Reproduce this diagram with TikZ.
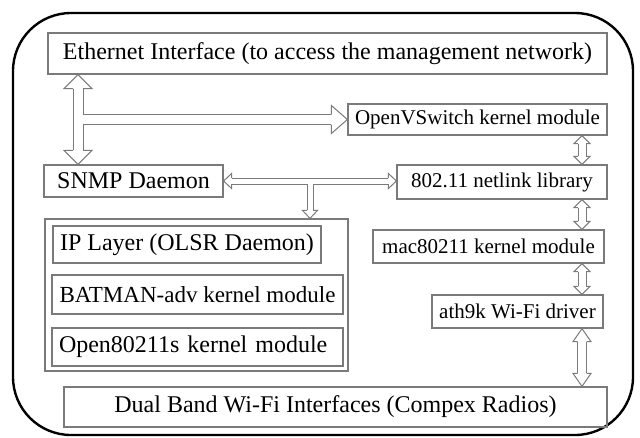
\documentclass[tikz,border=0pt]{standalone}
\usepackage{fontspec}
\setmainfont{Liberation Serif}
\usepackage{tikz}
\usetikzlibrary{calc}

\definecolor{linegray}{HTML}{7A7A7A}

\begin{document}
\begin{tikzpicture}[
			x=1pt, y=-1pt,
			every node/.style={font=\fontsize{24}{28}\selectfont},
			box/.style={
				rectangle, draw=linegray, line width=1.2pt,
				inner sep=0pt, align=center
			},
			small/.style={font=\fontsize{21}{25}\selectfont},
			pipe/.style={
				draw=linegray, line width=1pt, double=white
			},
			tiphead/.style={
				draw=linegray, fill=white, line width=1pt, line join=miter
			},
			pics/blocktip/.style n args={3}{code={
				\draw[tiphead] (-#1,-#3) -- (-#1,-#2) -- (0,0) -- (-#1,#2) -- (-#1,#3);
			}}
			]
			
			\useasboundingbox (0,0) rectangle (640,437);
			\draw[line width=2.4pt, rounded corners=58pt] (13,13) rectangle (633,435);
			
			\node[box, minimum width=559pt, minimum height=41pt] (eth) at (327.5,53.5) {Ethernet Interface (to access the management network)};
			\node[box, small, minimum width=259pt, minimum height=31pt] (ovs) at (477.5,119.5) {OpenVSwitch kernel module};
			\node[box, minimum width=179pt, minimum height=32pt] (snmp) at (133.5,181) {SNMP Daemon};
			\node[box, small, minimum width=210pt, minimum height=34pt] (netlink) at (502,182) {802.11 netlink library};
			
			\node[box, minimum width=303pt, minimum height=152pt] (stack) at (196.5,295) {};
			\node[box, minimum width=268pt, minimum height=37pt] (ip) at (187,244.5) {IP Layer (OLSR Daemon)};
			\node[box, font=\fontsize{23}{27}\selectfont, minimum width=291pt, minimum height=39pt] (batman) at (197.5,294.5) {BATMAN-adv kernel module};
			\node[box, minimum width=291pt, minimum height=38pt, text width=277pt, align=left] (open) at (197.5,347) {Open80211s kernel module};
			
			\node[box, small, minimum width=231pt, minimum height=33pt] (mac) at (488.5,246.5) {mac80211 kernel module};
			\node[box, small, minimum width=171pt, minimum height=33pt] (ath) at (517.5,311.5) {ath9k Wi-Fi driver};
			\node[box, minimum width=543pt, minimum height=40pt] (dual) at (335.5,407) {Dual Band Wi-Fi Interfaces (Compex Radios)};
			
			\coordinate (a1) at (78,0);
			\coordinate (a2) at (310,0);
			\coordinate (a3) at (582,0);
			
			% hollow shafts
			\draw[pipe, double distance=9pt] ($(a1 |- eth.south)+(0,14)$) -- ($(a1 |- snmp.north)+(0,-14)$)
				(a1 |- ovs.west) -- ($(ovs.west)+(-16,0)$);
			\draw[pipe, double distance=5pt] ($(snmp.east)+(8,0)$) -- ($(snmp.east -| netlink.west)+(-8,0)$)
				(a2 |- snmp.east) -- ($(a2 |- stack.north)+(0,-8)$);
			\draw[pipe, double distance=7pt, shorten <=8pt, shorten >=8pt] (a3 |- ovs.south) -- (a3 |- netlink.north);
			\draw[pipe, double distance=7pt, shorten <=8pt, shorten >=8pt] (a3 |- netlink.south) -- (a3 |- mac.north);
			\draw[pipe, double distance=7pt, shorten <=8pt, shorten >=8pt] (a3 |- mac.south) -- (a3 |- ath.north);
			\draw[pipe, double distance=8pt, shorten <=13pt, shorten >=13pt] (a3 |- ath.south) -- (a3 |- dual.north);
			
			% heads
			\pic[rotate=90] at (a1 |- eth.south) {blocktip={14}{14}{5}};
			\pic[rotate=-90] at (a1 |- snmp.north) {blocktip={14}{14}{5}};
			\pic at (ovs.west) {blocktip={16}{14}{5}};
			\pic[rotate=180] at (snmp.east) {blocktip={8}{7.5}{3}};
			\pic at (snmp.east -| netlink.west) {blocktip={8}{7.5}{3}};
			\pic[rotate=-90] at (a2 |- stack.north) {blocktip={8}{7.5}{3}};
			\pic[rotate=90] at (a3 |- ovs.south) {blocktip={8}{8}{4}};
			\pic[rotate=-90] at (a3 |- netlink.north) {blocktip={8}{8}{4}};
			\pic[rotate=90] at (a3 |- netlink.south) {blocktip={8}{8}{4}};
			\pic[rotate=-90] at (a3 |- mac.north) {blocktip={8}{8}{4}};
			\pic[rotate=90] at (a3 |- mac.south) {blocktip={8}{8}{4}};
			\pic[rotate=-90] at (a3 |- ath.north) {blocktip={8}{8}{4}};
			\pic[rotate=90] at (a3 |- ath.south) {blocktip={13}{9}{4.5}};
			\pic[rotate=-90] at (a3 |- dual.north) {blocktip={13}{9}{4.5}};
			
		\end{tikzpicture}
\end{document}
